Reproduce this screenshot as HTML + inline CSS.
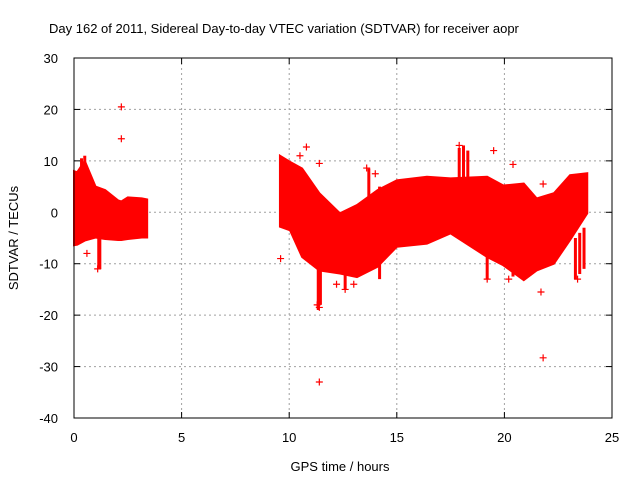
<!DOCTYPE html>
<html><head><meta charset="utf-8"><style>
body{margin:0;background:#fff;width:640px;height:480px;overflow:hidden}
svg{display:block;font-family:"Liberation Sans",sans-serif;font-size:13px}
</style></head><body>
<svg id="chart" width="640" height="480" viewBox="0 0 640 480">
<text x="49" y="33" fill="#000">Day 162 of 2011, Sidereal Day-to-day VTEC variation (SDTVAR) for receiver aopr</text>
<g id="grid"></g>
<g id="axes"></g>
<g id="series"></g>
<rect x="74" y="58" width="538" height="360" fill="none" stroke="#000" stroke-width="1"/>
<text x="340" y="471" text-anchor="middle">GPS time / hours</text>
<text transform="translate(18,238) rotate(-90)" text-anchor="middle">SDTVAR / TECUs</text>
</svg>
<script>
const xTicks=[0,5,10,15,20,25];
const yTicks=[30,20,10,0,-10,-20,-30,-40];
const seg1Time=[0,0.15,0.5,1.0,1.45,2.05,2.2,2.5,3.15,3.4];
const seg1Upper=[8,7.8,10,5,4.3,2.3,2.1,2.9,2.7,2.5];
const seg1Lower=[-6.4,-6.3,-5.5,-4.9,-5.2,-5.4,-5.4,-5.2,-4.9,-4.9];
const seg2Time=[9.57,10.04,10.6,11.4,12.36,13.15,14.1,15.0,16.4,17.5,19.2,19.95,20.9,21.5,22.3,23.05,23.85];
const seg2Upper=[11,9.8,8.5,3.7,-0.2,1.4,4.3,6.2,6.9,6.6,6.9,5.2,5.6,2.7,3.7,7.2,7.6];
const seg2Lower=[-2.8,-3.5,-8.7,-11.3,-11.9,-12.6,-10.6,-6.7,-6.1,-4.1,-8.7,-10.3,-13.2,-11.3,-10,-5.4,-0.2];
const spikeTime=[0.35,0.5,1.15,1.2,11.35,11.45,12.6,13.7,14.2,17.9,18.1,18.3,19.2,20.4,23.3,23.5,23.7];
const spikeHigh=[10.5,11,-4,-4,-10,-10,-10,8.5,5,12.5,13,12,-8,-10,-5,-4,-3];
const spikeLow=[6,6,-11,-11,-19,-18,-15,2,-13,6,6,6,-13,-12.5,-13,-12,-11];
const outlierTime=[2.2,2.2,9.6,11.4,11.4,10.5,10.8,11.4,13.6,14.0,19.5,20.4,21.8,21.7,21.8,12.6,12.2,19.2,20.2,23.4,0.6,1.1,11.3,13.0,17.9];
const outlierValue=[20.5,14.3,-9,-33,-18.5,11,12.7,9.5,8.6,7.5,12,9.3,5.5,-15.5,-28.3,-15,-14,-13,-13,-13,-8,-11,-18,-14,13];
const ns="http://www.w3.org/2000/svg";
const L=74,R=612,T=58,B=418;
const xs=t=>L+(t-0)/25*(R-L);
const ys=v=>T+(30-v)/70*(B-T);
function mk(tag,attrs,parent){const e=document.createElementNS(ns,tag);for(const k in attrs)e.setAttribute(k,attrs[k]);parent.appendChild(e);return e;}
const grid=document.getElementById('grid'),axes=document.getElementById('axes'),series=document.getElementById('series');
xTicks.forEach(t=>{
  const x=xs(t);
  if(t>0&&t<25){const g=mk('line',{x1:x,x2:x,y1:T,y2:B,stroke:'#a0a0a0','stroke-dasharray':'2,3'},grid);
  
  }
  mk('line',{x1:x,x2:x,y1:B,y2:B-6,stroke:'#000'},axes);
  mk('line',{x1:x,x2:x,y1:T,y2:T+6,stroke:'#000'},axes);
  const lb=mk('text',{x:x,y:B+24,'text-anchor':'middle'},axes);lb.textContent=t;
  
  
});
yTicks.forEach(v=>{
  const y=ys(v);
  if(v<30&&v>-40){const g=mk('line',{x1:L,x2:R,y1:y,y2:y,stroke:'#a0a0a0','stroke-dasharray':'2,3'},grid);
  
  }
  mk('line',{x1:L,x2:L+6,y1:y,y2:y,stroke:'#000'},axes);
  mk('line',{x1:R,x2:R-6,y1:y,y2:y,stroke:'#000'},axes);
  const lb=mk('text',{x:L-16,y:y+5,'text-anchor':'end'},axes);lb.textContent=v;
  
  
});
function band(time,up,lo,name){
  let pts=time.map((t,i)=>xs(t)+','+ys(up[i]));
  for(let i=time.length-1;i>=0;i--)pts.push(xs(time[i])+','+ys(lo[i]));
  const p=mk('polygon',{points:pts.join(' '),fill:'#ff0000',stroke:'#ff0000','stroke-width':2},series);
  
  
}
band(seg1Time,seg1Upper,seg1Lower,'data-band-early');
band(seg2Time,seg2Upper,seg2Lower,'data-band-late');
spikeTime.forEach((t,i)=>{
  const x=xs(t);
  const s=mk('line',{x1:x,x2:x,y1:ys(spikeHigh[i]),y2:ys(spikeLow[i]),stroke:'#ff0000','stroke-width':3},series);
  
  
});
outlierTime.forEach((t,i)=>{
  const x=xs(t),y=ys(outlierValue[i]);
  const g=mk('path',{d:`M${x-3.5},${y}H${x+3.5}M${x},${y-3.5}V${y+3.5}`,stroke:'#ff0000','stroke-width':1.2},series);
  
  
});
</script>
</body></html>
